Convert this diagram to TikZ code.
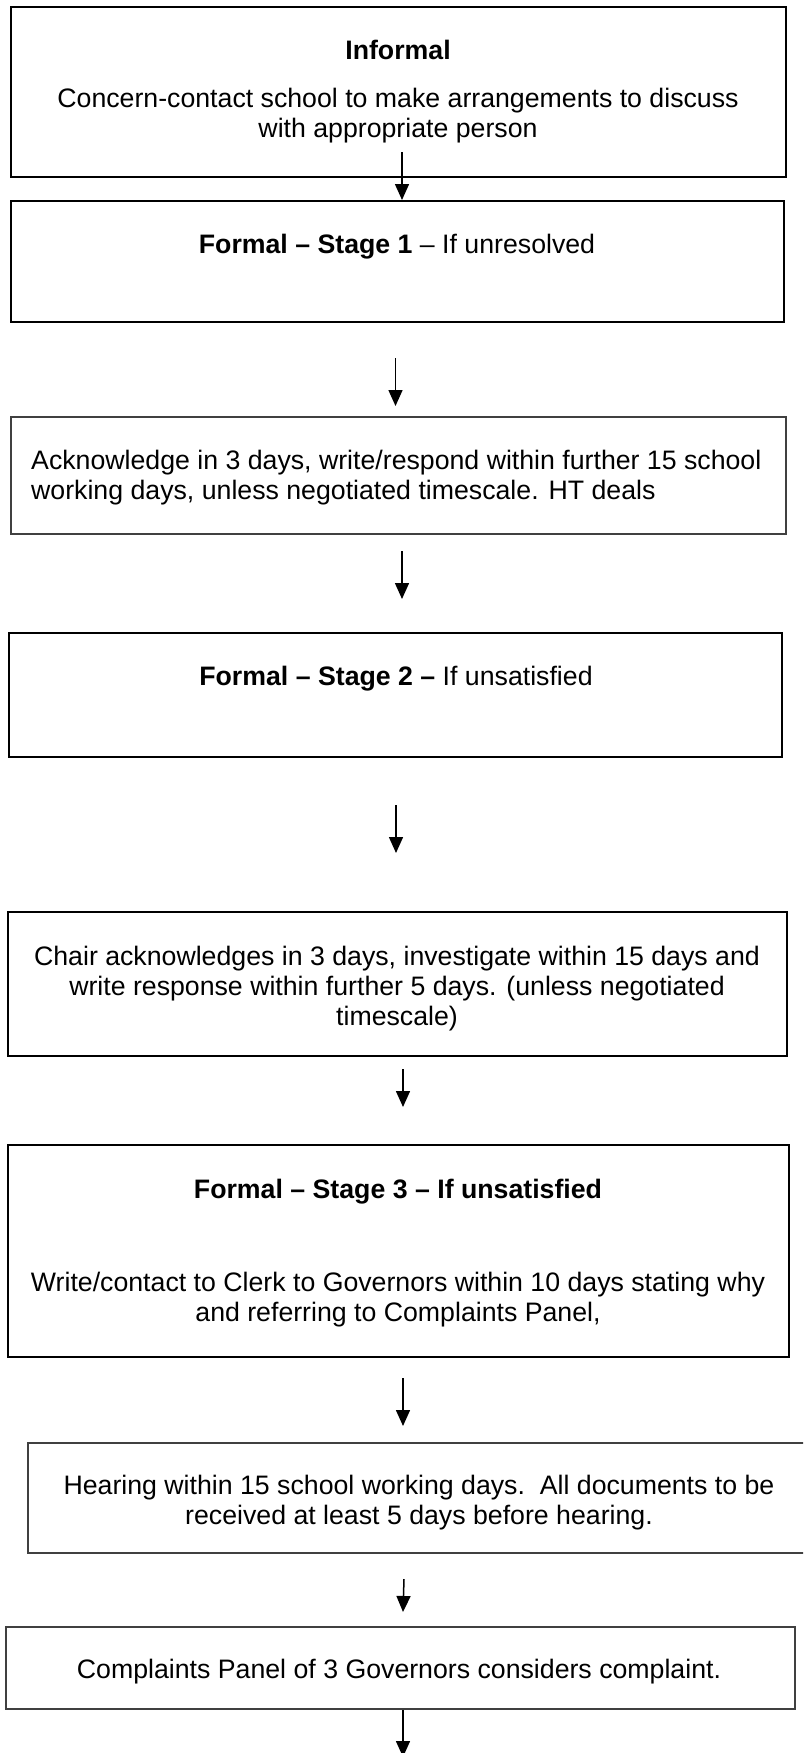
\documentclass[tikz,border=0pt]{standalone}
\usepackage{fontspec}
\setmainfont{Liberation Sans}
\usetikzlibrary{arrows.meta}
\begin{document}
\begin{tikzpicture}[x=1pt,y=-1pt,
  thickbox/.style={draw=black,line width=2pt,inner sep=0pt,outer sep=0pt},
  thinbox/.style={draw=black!75,line width=1.2pt,inner sep=0pt,outer sep=0pt},
  txt/.style={inner sep=0pt,anchor=base,font=\fontsize{26.7pt}{30.7pt}\selectfont},
  txtl/.style={txt,anchor=base west},
  flow/.style={line width=1.5pt,-{Triangle[length=16pt,width=14pt]}}]
\useasboundingbox (0,0) rectangle (803,1753);
\clip (0,0) rectangle (803,1753);
\fill[white] (0,0) rectangle (803,1753);

% boxes
\node[thickbox,minimum width=775pt,minimum height=170pt] (b1) at (398.5,92) {};
\node[thickbox,minimum width=773pt,minimum height=121pt] (b2) at (397.5,261.5) {};
\node[thinbox,minimum width=775pt,minimum height=117pt] (b3) at (398.5,475.5) {};
\node[thickbox,minimum width=773pt,minimum height=124pt] (b4) at (395.5,695) {};
\node[thickbox,minimum width=779pt,minimum height=144pt] (b5) at (397.5,984) {};
\node[thickbox,minimum width=781pt,minimum height=212pt] (b6) at (398.5,1251) {};
\node[thinbox,minimum width=783pt,minimum height=110pt] (b7) at (419.5,1498) {};
\node[thinbox,minimum width=789pt,minimum height=82pt] (b8) at (400.5,1668) {};

% texts
\node[txt] (t1a) at (398,59.5) {\textbf{Informal}};
\node[txt] (t1b) at (398,107.5) {Concern-contact school to make arrangements to discuss};
\node[txt] (t1c) at (398,137.5) {with appropriate person};
\node[txt] (t2) at (397,253.5) {\textbf{Formal – Stage 1} – If unresolved};
\node[txtl] (t3a) at (31,469.5) {Acknowledge in 3 days, write/respond within further 15 school};
\node[txtl] (t3b) at (31,499.5) {working days, unless negotiated timescale. HT deals};
\node[txt] (t4) at (396,685.5) {\textbf{Formal – Stage 2 –} If unsatisfied};
\node[txt] (t5a) at (397,965.5) {Chair acknowledges in 3 days, investigate within 15 days and};
\node[txt] (t5b) at (397,995.5) {write response within further 5 days. (unless negotiated};
\node[txt] (t5c) at (397,1025.5) {timescale)};
\node[txt] (t6a) at (398,1198.5) {\textbf{Formal – Stage 3 – If unsatisfied}};
\node[txt] (t6b) at (398,1291.5) {Write/contact to Clerk to Governors within 10 days stating why};
\node[txt] (t6c) at (398,1321.5) {and referring to Complaints Panel,};
\node[txt] (t7a) at (419,1494.5) {Hearing within 15 school working days.\ \ All documents to be};
\node[txt] (t7b) at (419,1524.5) {received at least 5 days before hearing.};
\node[txt] (t8) at (399,1678.5) {Complaints Panel of 3 Governors considers complaint.};

% arrow end points
\coordinate (a1s) at (402,152);   \coordinate (a1e) at (402,200);
\coordinate (a2s) at (395.5,358); \coordinate (a2e) at (395.5,406);
\coordinate (a3s) at (402,551);   \coordinate (a3e) at (402,599);
\coordinate (a4s) at (396,805);   \coordinate (a4e) at (396,853);
\coordinate (a5s) at (403,1069);  \coordinate (a5e) at (403,1107);
\coordinate (a6s) at (403,1378);  \coordinate (a6e) at (403,1426);
\coordinate (a7s) at (404,1579);  \coordinate (a7e) at (403,1612);
\coordinate (a8s) at (403,1710);  \coordinate (a8e) at (403,1757);

\draw[flow] (a1s) -- (a1e);
\draw[flow] (a2s) -- (a2e);
\draw[flow] (a3s) -- (a3e);
\draw[flow] (a4s) -- (a4e);
\draw[flow] (a5s) -- (a5e);
\draw[flow] (a6s) -- (a6e);
\draw[flow] (a7s) -- (a7e);
\draw[flow] (a8s) -- (a8e);
\end{tikzpicture}
\end{document}
